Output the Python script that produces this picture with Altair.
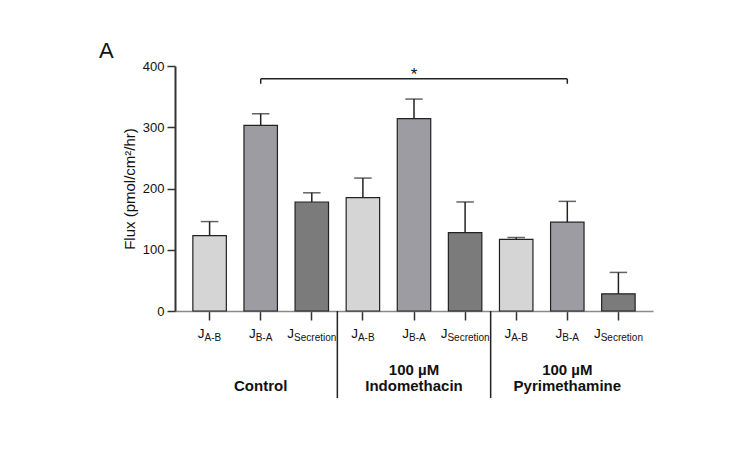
import altair as alt
import pandas as pd

groups = ["Control", "100 µM Indomethacin", "100 µM Pyrimethamine"]
group_line1 = ["", "100 µM", "100 µM"]
group_line2 = ["Control", "Indomethacin", "Pyrimethamine"]
fluxes = ["A-B", "B-A", "Secretion"]
means = [123, 303, 178, 185, 314, 128, 117, 145, 28]
sems = [23, 19, 15, 32, 32, 50, 3, 34, 35]
flux_colors = ["#d5d5d5", "#9c9ca2", "#7b7b7b"]
y_ticks = [0, 100, 200, 300, 400]
sig_pair = (1, 7)  # indices of compared bars
sig_level = 379
sig_label = "*"
separators_after = [2, 5]

rows = []
for gi, g in enumerate(groups):
    for fi, f in enumerate(fluxes):
        i = gi * 3 + fi
        rows.append({"key": f"{g}|{f}", "group": g, "flux": f,
                     "mean": means[i], "top": means[i] + sems[i]})
df = pd.DataFrame(rows)
keys = list(df["key"])

FONT = "Liberation Sans"
TXT = "#111"
W, H = 478, 245

xscale = alt.Scale(domain=keys, paddingInner=0, paddingOuter=0.177)
X = alt.X("key:N", scale=xscale, sort=keys,
          axis=alt.Axis(labels=False, title=None, domainColor="#8a8a8a",
                        domainWidth=1.5, tickColor="#333", tickWidth=1.5,
                        tickSize=9, grid=False))
yscale = alt.Scale(domain=[0, 400], nice=False)

base = alt.Chart(df)

bars = base.mark_bar(width=alt.RelativeBandSize(0.655), stroke="#222",
                     strokeWidth=1.2).encode(
    x=X,
    y=alt.Y("mean:Q", scale=yscale,
            axis=alt.Axis(values=y_ticks, title="Flux (pmol/cm²/hr)",
                          titleFontSize=15, titleFontWeight="normal",
                          titleColor=TXT, titleFont=FONT, titlePadding=5,
                          labelFont=FONT, labelFontSize=13, labelColor=TXT,
                          labelPadding=3, domainColor="#333", domainWidth=2,
                          tickColor="#333", tickWidth=1.5, tickSize=8,
                          grid=False)),
    color=alt.Color("flux:N", scale=alt.Scale(domain=fluxes, range=flux_colors),
                    legend=None),
)

err = base.mark_rule(color="#222", strokeWidth=1.5).encode(
    x=alt.X("key:N", scale=xscale, sort=keys),
    y=alt.Y("mean:Q", scale=yscale), y2="top:Q")
caps = base.mark_tick(color="#222", thickness=1.5, size=17.5).encode(
    x=alt.X("key:N", scale=xscale, sort=keys),
    y=alt.Y("top:Q", scale=yscale))

# separators between groups
sep_df = pd.DataFrame({"key": [keys[i] for i in separators_after]})
seps = alt.Chart(sep_df).mark_rule(color="#222", strokeWidth=1.5).encode(
    x=alt.X("key:N", scale=xscale, sort=keys, bandPosition=1),
    y=alt.value(H), y2=alt.value(332))

# J labels with subscripts
lab_short = df[df["flux"] != "Secretion"]
lab_long = df[df["flux"] == "Secretion"]
def jlabels(d, dx):
    c = alt.Chart(d)
    j = c.mark_text(text="J", font=FONT, fontSize=13.5, align="right",
                    baseline="alphabetic", dx=dx, color=TXT).encode(
        x=alt.X("key:N", scale=xscale, sort=keys), y=alt.value(271.5))
    s = c.mark_text(font=FONT, fontSize=10, align="left",
                    baseline="alphabetic", dx=dx, color=TXT).encode(
        x=alt.X("key:N", scale=xscale, sort=keys), y=alt.value(275),
        text="flux:N")
    return j + s
labs = jlabels(lab_short, -5) + jlabels(lab_long, -17.7)

# group labels
gl_df = pd.DataFrame({"key": [keys[gi * 3 + 1] for gi in range(len(groups))],
                      "l1": group_line1, "l2": group_line2})
gl1 = alt.Chart(gl_df).mark_text(font=FONT, fontSize=15, fontWeight="bold",
                                 baseline="alphabetic", color=TXT).encode(
    x=alt.X("key:N", scale=xscale, sort=keys), y=alt.value(309), text="l1:N")
gl2 = alt.Chart(gl_df).mark_text(font=FONT, fontSize=15, fontWeight="bold",
                                 baseline="alphabetic", color=TXT).encode(
    x=alt.X("key:N", scale=xscale, sort=keys), y=alt.value(325), text="l2:N")

# significance bracket
br_df = pd.DataFrame({"a": [keys[sig_pair[0]]], "b": [keys[sig_pair[1]]],
                      "y": [sig_level], "mid": [keys[(sig_pair[0] + sig_pair[1]) // 2]],
                      "t": [sig_label]})
bracket = alt.Chart(br_df).mark_rule(color="#222", strokeWidth=1.5).encode(
    x=alt.X("a:N", scale=xscale, sort=keys), x2="b:N",
    y=alt.Y("y:Q", scale=yscale))
drop_df = pd.DataFrame({"k": [keys[sig_pair[0]], keys[sig_pair[1]]],
                        "y": [sig_level, sig_level], "y2": [sig_level - 8, sig_level - 8]})
drops = alt.Chart(drop_df).mark_rule(color="#222", strokeWidth=1.5).encode(
    x=alt.X("k:N", scale=xscale, sort=keys),
    y=alt.Y("y:Q", scale=yscale), y2="y2:Q")
star = alt.Chart(br_df).mark_text(font=FONT, fontSize=17, baseline="middle",
                                  dy=-4, color=TXT).encode(
    x=alt.X("mid:N", scale=xscale, sort=keys),
    y=alt.Y("y:Q", scale=yscale), text="t:N")

panel = alt.Chart(pd.DataFrame({"t": ["A"]})).mark_text(
    font=FONT, fontSize=22, align="left", baseline="alphabetic",
    color=TXT).encode(x=alt.value(-76), y=alt.value(-8), text="t:N")

chart = alt.layer(bars, err, caps, seps, labs, gl1, gl2, bracket, drops, star,
                  panel).properties(
    width=W, height=H,
    background="white",
    autosize=alt.AutoSizeParams(type="none"),
    padding={"left": 167, "top": 58, "right": 80, "bottom": 120},
).configure_view(stroke=None, strokeWidth=0)

chart.save("out.html", embed_options={"renderer": "svg", "actions": False})
